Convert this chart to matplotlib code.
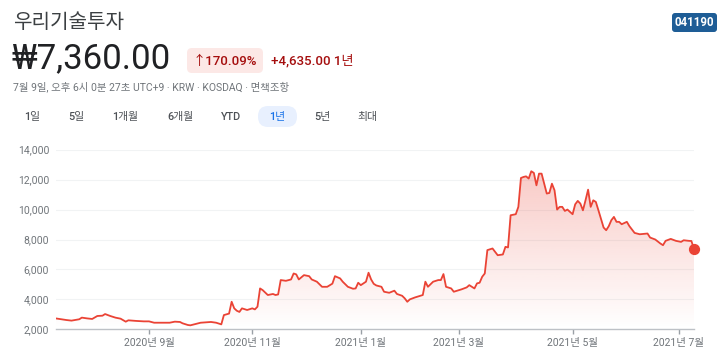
import numpy as np
import pandas as pd
import matplotlib
matplotlib.use('Agg')
import matplotlib.pyplot as plt
from matplotlib.patches import FancyBboxPatch
from matplotlib.colors import to_rgb

plt.rcParams['font.family'] = ['Roboto', 'Noto Sans CJK KR', 'DejaVu Sans']

# --- data ---
name = '우리기술투자'
ticker = '041190'
last_price = '₩7,360.00'
pct_change = '↑170.09%'
abs_change = '+4,635.00 1년'
subtitle = '7월 9일, 오후 6시 0분 27초 UTC+9 · KRW · KOSDAQ · 면책조항'
ranges = ['1일', '5일', '1개월', '6개월', 'YTD', '1년', '5년', '최대']
selected = '1년'

holidays = ['2020-08-17', '2020-09-30', '2020-10-01', '2020-10-02', '2020-10-09',
            '2020-12-25', '2020-12-31', '2021-01-01', '2021-02-11', '2021-02-12',
            '2021-03-01', '2021-05-05', '2021-05-19']

dates = [
    '2020-07-10', '2020-07-16', '2020-07-20', '2020-07-23', '2020-07-24', '2020-07-28',
    '2020-07-30', '2020-08-03', '2020-08-05', '2020-08-06', '2020-08-10', '2020-08-12',
    '2020-08-14', '2020-08-19', '2020-08-20', '2020-08-25', '2020-08-28', '2020-09-01',
    '2020-09-03', '2020-09-09', '2020-09-11', '2020-09-15', '2020-09-17', '2020-09-18',
    '2020-09-22', '2020-09-23', '2020-09-25', '2020-09-29', '2020-10-06', '2020-10-08',
    '2020-10-13', '2020-10-15', '2020-10-16', '2020-10-20', '2020-10-21', '2020-10-22',
    '2020-10-23', '2020-10-26', '2020-10-27', '2020-10-29', '2020-11-02', '2020-11-03',
    '2020-11-04', '2020-11-05', '2020-11-06', '2020-11-10', '2020-11-12', '2020-11-13',
    '2020-11-16', '2020-11-17', '2020-11-19', '2020-11-23', '2020-11-24', '2020-11-25',
    '2020-11-26', '2020-11-30', '2020-12-02', '2020-12-03', '2020-12-07', '2020-12-09',
    '2020-12-11', '2020-12-15', '2020-12-16', '2020-12-18', '2020-12-21', '2020-12-23',
    '2020-12-28', '2020-12-29', '2020-12-30', '2021-01-04', '2021-01-06', '2021-01-07',
    '2021-01-08', '2021-01-11', '2021-01-12', '2021-01-14', '2021-01-15', '2021-01-19',
    '2021-01-21', '2021-01-22', '2021-01-26', '2021-01-27', '2021-01-28', '2021-01-29',
    '2021-02-02', '2021-02-05', '2021-02-08', '2021-02-09', '2021-02-15', '2021-02-17',
    '2021-02-18', '2021-02-19', '2021-02-22', '2021-02-24', '2021-02-25', '2021-03-03',
    '2021-03-05', '2021-03-08', '2021-03-10', '2021-03-11', '2021-03-12', '2021-03-15',
    '2021-03-16', '2021-03-17', '2021-03-19', '2021-03-23', '2021-03-25', '2021-03-26',
    '2021-03-29', '2021-03-30', '2021-04-01', '2021-04-02', '2021-04-05', '2021-04-06',
    '2021-04-07', '2021-04-08', '2021-04-09', '2021-04-12', '2021-04-13', '2021-04-14',
    '2021-04-15', '2021-04-16', '2021-04-19', '2021-04-20', '2021-04-21', '2021-04-22',
    '2021-04-23', '2021-04-26', '2021-04-27', '2021-04-28', '2021-04-29', '2021-05-03',
    '2021-05-04', '2021-05-06', '2021-05-07', '2021-05-10', '2021-05-11', '2021-05-12',
    '2021-05-13', '2021-05-14', '2021-05-17', '2021-05-18', '2021-05-21', '2021-05-24',
    '2021-05-25', '2021-05-26', '2021-05-27', '2021-05-28', '2021-05-31', '2021-06-01',
    '2021-06-03', '2021-06-04', '2021-06-08', '2021-06-10', '2021-06-15', '2021-06-16',
    '2021-06-18', '2021-06-22', '2021-06-23', '2021-06-24', '2021-06-28', '2021-06-30',
    '2021-07-02', '2021-07-05', '2021-07-07', '2021-07-08', '2021-07-09',
]
price = [
    2725, 2620, 2580, 2670, 2780, 2730,
    2690, 2890, 2910, 3020, 2890, 2780,
    2710, 2510, 2600, 2560, 2530, 2530,
    2440, 2440, 2440, 2510, 2490, 2400,
    2290, 2265, 2355, 2440, 2465, 2490,
    2440, 2330, 2950, 3050, 3840, 3400,
    3240, 3160, 3400, 3290, 3400, 3330,
    3510, 4730, 4620, 4290, 4360, 4290,
    4330, 5290, 5240, 5330, 5730, 5670,
    5330, 5620, 5550, 5330, 5180, 4840,
    4840, 5050, 5550, 5400, 5180, 4840,
    4710, 4730, 5110, 4950, 5180, 5780,
    5330, 5040, 4930, 4840, 4510, 4440,
    4580, 4360, 4240, 4070, 3840, 4000,
    4130, 4290, 5180, 4840, 5180, 5290,
    5290, 5690, 4840, 4730, 4510, 4670,
    4800, 4950, 4730, 5070, 5110, 5510,
    5730, 7290, 7400, 6950, 7000, 7510,
    7470, 9620, 9690, 10180, 12110, 12180,
    12220, 12070, 12560, 12450, 11620, 12400,
    12400, 11730, 11070, 11110, 11730, 11290,
    10000, 10180, 10180, 9910, 10000, 9690,
    10350, 10580, 10400, 9950, 10620, 11330,
    10180, 10620, 10510, 9950, 8800, 8620,
    8890, 9290, 9510, 9180, 9180, 9020,
    9180, 8890, 8440, 8350, 8400, 8130,
    8000, 7730, 7620, 7910, 8040, 7910,
    7840, 7950, 7910, 7900, 7360,
]
month_ticks = ['2020-09', '2020-11', '2021-01', '2021-03', '2021-05', '2021-07']
month_labels = ['2020년 9월', '2020년 11월', '2021년 1월', '2021년 3월', '2021년 5월', '2021년 7월']
y_ticks = [2000, 4000, 6000, 8000, 10000, 12000, 14000]
y_labels = ['2,000', '4,000', '6,000', '8,000', '10,000', '12,000', '14,000']

# trading calendar -> x positions (Google plots by session, not calendar day)
sessions = pd.bdate_range('2020-07-10', '2021-07-09')
sessions = sessions[~sessions.isin(pd.to_datetime(holidays))]
x = sessions.get_indexer(pd.to_datetime(dates))
assert (x >= 0).all()
y = np.array(price, dtype=float)
tick_x = [int(np.argmax(sessions.strftime('%Y-%m') == m)) for m in month_ticks]

RED = '#ea4335'
GREY = '#70757a'
W, H = 726, 357

fig = plt.figure(figsize=(W / 100, H / 100), dpi=100)
fig.patch.set_facecolor('white')

# overlay in pixel coordinates for the header
ov = fig.add_axes([0, 0, 1, 1], zorder=0)
ov.set_xlim(0, W)
ov.set_ylim(H, 0)
ov.axis('off')

ov.text(13, 23, name, fontsize=14.5, color='#3c4043', va='center', ha='left')
ov.text(12, 59, last_price, fontsize=25, color='#202124', va='center', ha='left')
ov.add_patch(FancyBboxPatch((187, 48), 76, 25, boxstyle='round,pad=0,rounding_size=5',
                            fc='#fce8e6', ec='none'))
ov.text(225, 61, pct_change, fontsize=9.5, color='#a50e0e', va='center', ha='center',
        fontweight='medium')
ov.text(271, 61, abs_change, fontsize=9.5, color='#a50e0e', va='center', ha='left',
        fontweight='medium')
ov.text(13, 87, subtitle, fontsize=7.5, color=GREY, va='center', ha='left')

ov.add_patch(FancyBboxPatch((672, 13), 45, 19, boxstyle='round,pad=0,rounding_size=3',
                            fc='#1e5d96', ec='none'))
ov.text(694.5, 22.5, ticker, fontsize=8.3, color='white', va='center', ha='center',
        fontweight='bold')

tab_x = [32, 76, 125, 180, 231, 277, 322, 367]
for tx, r in zip(tab_x, ranges):
    col = '#4d5156'
    if r == selected:
        ov.add_patch(FancyBboxPatch((258, 106), 39, 21, boxstyle='round,pad=0,rounding_size=10',
                                    fc='#e8f0fe', ec='none'))
        col = '#1a73e8'
    ov.text(tx, 117, r, fontsize=7.8, color=col, va='center', ha='center', fontweight='medium')

# chart axes
ax = fig.add_axes([56 / W, 1 - 329.3 / H, (694 - 56) / W, (329.3 - 149.7) / H], zorder=1)
ax.set_facecolor('none')

top = y.max()
rgba = np.zeros((256, 1, 4))
rgba[..., :3] = to_rgb(RED)
rgba[..., 3] = np.linspace(0.28, 0.0, 256)[:, None]
poly = ax.fill_between(x, y, 2000, color='none', lw=0)
im = ax.imshow(rgba, extent=[x[0], x[-1], 2000, top], aspect='auto', origin='upper', zorder=1)
im.set_clip_path(poly.get_paths()[0], transform=ax.transData)

ax.plot(x, y, color=RED, lw=1.3, zorder=3, solid_joinstyle='round')
ax.scatter([x[-1]], [y[-1]], s=50, color=RED, zorder=4, clip_on=False)

ax.set_xlim(0, len(sessions) - 1)
ax.set_ylim(2000, 14000)
ax.set_yticks(y_ticks)
ax.set_yticklabels(y_labels)
ax.set_xticks(tick_x)
ax.set_xticklabels(month_labels)
ax.grid(axis='y', color='#f1f3f4', lw=0.8)
ax.set_axisbelow(True)
for s in ['top', 'right', 'left']:
    ax.spines[s].set_visible(False)
ax.spines['bottom'].set_color('#bdc1c6')
ax.spines['bottom'].set_linewidth(1)
ax.tick_params(axis='y', length=0, pad=5, labelsize=7.5, labelcolor=GREY)
ax.tick_params(axis='x', length=3.5, width=1, color='#9aa0a6', pad=3, labelsize=7.5,
               labelcolor=GREY)

fig.savefig('out.png', dpi=100, facecolor='white')
